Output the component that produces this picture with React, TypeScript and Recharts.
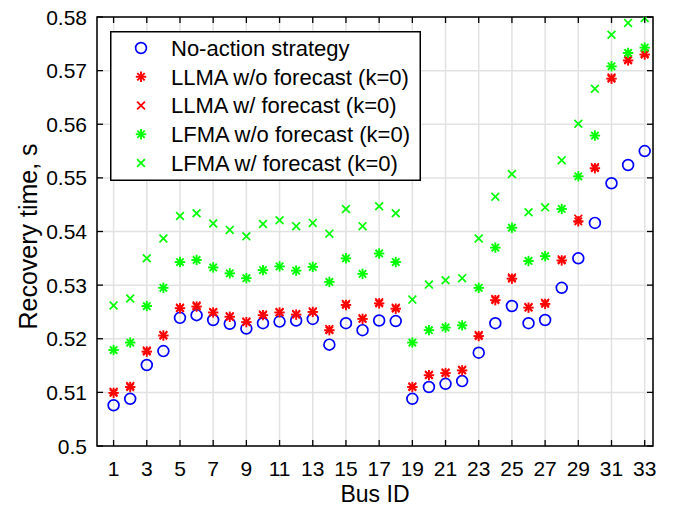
import { ScatterChart, Scatter, XAxis, YAxis, CartesianGrid, Legend, ReferenceArea } from 'recharts';

const busIds = [1, 2, 3, 4, 5, 6, 7, 8, 9, 10, 11, 12, 13, 14, 15, 16, 17, 18, 19, 20, 21, 22, 23, 24, 25, 26, 27, 28, 29, 30, 31, 32, 33];

const noAction = [0.5076, 0.5088, 0.5151, 0.5177, 0.5239, 0.5244, 0.5235, 0.5228, 0.5219, 0.5229, 0.5232, 0.5234, 0.5237, 0.5189, 0.5229, 0.5216, 0.5234, 0.5233, 0.5088, 0.5110, 0.5116, 0.5121, 0.5174, 0.5229, 0.5261, 0.5229, 0.5235, 0.5295, 0.5350, 0.5416, 0.5490, 0.5524, 0.5550];
const llmaNoForecast = [0.5099, 0.5110, 0.5176, 0.5206, 0.5257, 0.5260, 0.5249, 0.5241, 0.5231, 0.5244, 0.5249, 0.5245, 0.5250, 0.5216, 0.5263, 0.5237, 0.5266, 0.5256, 0.5110, 0.5132, 0.5136, 0.5141, 0.5205, 0.5272, 0.5312, 0.5258, 0.5265, 0.5346, 0.5419, 0.5518, 0.5685, 0.5719, 0.5730];
const llmaForecast = [0.5101, 0.5112, 0.5178, 0.5207, 0.5258, 0.5262, 0.5250, 0.5242, 0.5232, 0.5245, 0.5250, 0.5246, 0.5251, 0.5218, 0.5265, 0.5238, 0.5268, 0.5258, 0.5111, 0.5133, 0.5137, 0.5142, 0.5207, 0.5274, 0.5314, 0.5259, 0.5267, 0.5348, 0.5424, 0.5520, 0.5687, 0.5721, 0.5732];
const lfmaNoForecast = [0.5179, 0.5193, 0.5261, 0.5295, 0.5343, 0.5347, 0.5333, 0.5322, 0.5313, 0.5328, 0.5335, 0.5327, 0.5334, 0.5306, 0.5350, 0.5321, 0.5359, 0.5343, 0.5193, 0.5216, 0.5221, 0.5225, 0.5295, 0.5370, 0.5407, 0.5345, 0.5354, 0.5442, 0.5503, 0.5579, 0.5708, 0.5733, 0.5743];
const lfmaForecast = [0.5262, 0.5275, 0.5350, 0.5387, 0.5429, 0.5434, 0.5415, 0.5403, 0.5391, 0.5414, 0.5421, 0.5410, 0.5416, 0.5396, 0.5442, 0.5410, 0.5447, 0.5434, 0.5273, 0.5301, 0.5309, 0.5313, 0.5387, 0.5465, 0.5507, 0.5436, 0.5445, 0.5533, 0.5601, 0.5666, 0.5767, 0.5789, 0.5798];

const seriesNames = ['No-action strategy', 'LLMA w/o forecast (k=0)', 'LLMA w/ forecast (k=0)', 'LFMA w/o forecast (k=0)', 'LFMA w/ forecast (k=0)'];
const xTicks = [1, 3, 5, 7, 9, 11, 13, 15, 17, 19, 21, 23, 25, 27, 29, 31, 33];
const yTicks = [0.5, 0.51, 0.52, 0.53, 0.54, 0.55, 0.56, 0.57, 0.58];

const FONT = '"Liberation Sans", Arial, Helvetica, sans-serif';
const LEFT = 97;
const RIGHT = 653;
const TOP = 17;
const BOTTOM = 446;

type MarkerKind = 'circle' | 'star' | 'cross';

const series: { values: number[]; color: string; marker: MarkerKind }[] = [
  { values: noAction, color: '#0000ff', marker: 'circle' },
  { values: llmaNoForecast, color: '#ff0000', marker: 'star' },
  { values: llmaForecast, color: '#ff0000', marker: 'cross' },
  { values: lfmaNoForecast, color: '#00ff00', marker: 'star' },
  { values: lfmaForecast, color: '#00ff00', marker: 'cross' },
];

function drawMarker(kind: MarkerKind, cx: number, cy: number, color: string) {
  if (kind === 'circle') {
    return <circle cx={cx} cy={cy} r={5.4} fill="none" stroke={color} strokeWidth={1.7} />;
  }
  if (kind === 'cross') {
    const s = 3.9;
    return (
      <g stroke={color} strokeWidth={1.7}>
        <line x1={cx - s} y1={cy - s} x2={cx + s} y2={cy + s} />
        <line x1={cx - s} y1={cy + s} x2={cx + s} y2={cy - s} />
      </g>
    );
  }
  const r = 5.2;
  const d = 3.7;
  return (
    <g stroke={color} strokeWidth={1.9}>
      <line x1={cx - r} y1={cy} x2={cx + r} y2={cy} />
      <line x1={cx} y1={cy - r} x2={cx} y2={cy + r} />
      <line x1={cx - d} y1={cy - d} x2={cx + d} y2={cy + d} />
      <line x1={cx - d} y1={cy + d} x2={cx + d} y2={cy - d} />
    </g>
  );
}

const XTick = (props: any) => {
  const { x, payload } = props;
  return (
    <g>
      <line x1={x} x2={x} y1={BOTTOM} y2={BOTTOM - 6} stroke="#000" strokeWidth={1.3} />
      <line x1={x} x2={x} y1={TOP} y2={TOP + 6} stroke="#000" strokeWidth={1.3} />
      <text x={x} y={476} textAnchor="middle" fontSize={21} fontFamily={FONT} fill="#000">
        {payload.value}
      </text>
    </g>
  );
};

const YTick = (props: any) => {
  const { y, payload } = props;
  return (
    <g>
      <line x1={LEFT} x2={LEFT + 6} y1={y} y2={y} stroke="#000" strokeWidth={1.3} />
      <line x1={RIGHT} x2={RIGHT - 6} y1={y} y2={y} stroke="#000" strokeWidth={1.3} />
      <text x={87} y={y} dy="0.36em" textAnchor="end" fontSize={21} fontFamily={FONT} fill="#000">
        {String(Number(payload.value.toFixed(2)))}
      </text>
    </g>
  );
};

// legend drawn in plot order, not in the order Recharts hands the payload over
const renderLegend = () => (
  <svg width={311} height={150} style={{ display: 'block' }}>
    <rect x={0.75} y={0.75} width={309.5} height={148.5} fill="#fff" stroke="#000" strokeWidth={1.5} />
    {seriesNames.map((name, i) => {
      const cy = 17 + i * 28.75;
      return (
        <g key={name}>
          {drawMarker(series[i].marker, 31, cy, series[i].color)}
          <text x={61} y={cy} dy="0.36em" fontSize={22} fontFamily={FONT} fill="#000">
            {name}
          </text>
        </g>
      );
    })}
  </svg>
);

export default function App() {
  return (
    <div style={{ position: 'absolute', left: 0, top: 0, background: '#fff' }}>
      <ScatterChart width={674} height={515} margin={{ top: TOP, right: 674 - RIGHT, bottom: 0, left: 0 }}>
        <CartesianGrid stroke="#e2e2e2" strokeWidth={1.5} />
        <XAxis
          type="number"
          dataKey="x"
          domain={[0, 33.5]}
          ticks={xTicks}
          interval={0}
          allowDataOverflow
          height={515 - BOTTOM}
          axisLine={false}
          tickLine={false}
          tick={<XTick />}
        />
        <YAxis
          type="number"
          dataKey="y"
          domain={[0.5, 0.58]}
          ticks={yTicks}
          interval={0}
          allowDataOverflow
          width={LEFT}
          axisLine={false}
          tickLine={false}
          tick={<YTick />}
        />
        <ReferenceArea x1={0} x2={33.5} y1={0.5} y2={0.58} fill="none" fillOpacity={0} stroke="#000" strokeWidth={1.5} strokeOpacity={1} />
        {series.map((s, i) => (
          <Scatter
            key={seriesNames[i]}
            name={seriesNames[i]}
            data={busIds.map((b, j) => ({ x: b, y: s.values[j] }))}
            fill={s.color}
            isAnimationActive={false}
            shape={(p: any) => drawMarker(s.marker, p.cx, p.cy, s.color)}
          />
        ))}
        <Legend
          layout="vertical"
          align="center"
          verticalAlign="middle"
          content={renderLegend}
          wrapperStyle={{ position: 'absolute', left: 110, top: 31, width: 311, height: 150 }}
        />
      </ScatterChart>
      <svg width={674} height={515} style={{ position: 'absolute', left: 0, top: 0, pointerEvents: 'none' }}>
        <text x={(LEFT + RIGHT) / 2} y={502} textAnchor="middle" fontSize={23} fontFamily={FONT} fill="#000">
          Bus ID
        </text>
        <text
          x={0}
          y={0}
          transform={`translate(37, ${(TOP + BOTTOM) / 2 + 5}) rotate(-90)`}
          textAnchor="middle"
          fontSize={25}
          fontFamily={FONT}
          fill="#000"
        >
          Recovery time, s
        </text>
      </svg>
    </div>
  );
}
